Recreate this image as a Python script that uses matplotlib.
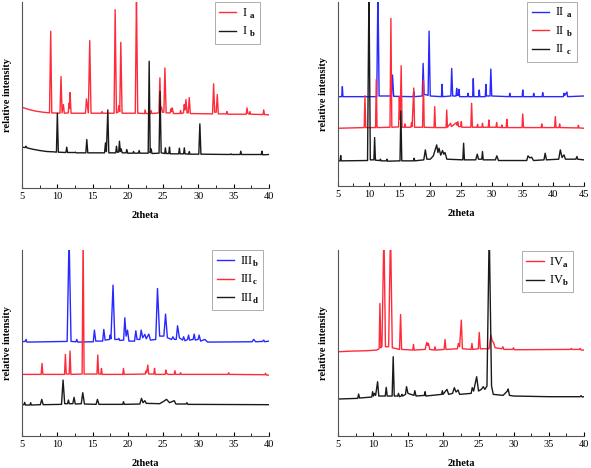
import matplotlib
matplotlib.use("Agg")
import matplotlib.pyplot as plt
from matplotlib.ticker import MultipleLocator

plt.rcParams['font.family'] = ['Liberation Serif', 'DejaVu Serif']
plt.rcParams['mathtext.fontset'] = 'custom'
plt.rcParams['mathtext.rm'] = 'Liberation Serif'
plt.rcParams['mathtext.bf'] = 'Liberation Serif:bold'

# ---- panel 1: I_a, I_b  (2theta, intensity in arbitrary units) ----
I_a = [(5, 243), (6, 236), (7, 231), (8, 228), (8.9, 226), (9.07, 471), (9.22, 226), (10.38, 225), (10.53, 335),
       (10.68, 226), (10.87, 251), (11.0, 225), (11.55, 226), (11.67, 255), (11.74, 240), (11.81, 287), (11.95, 225),
       (14.0, 225), (14.13, 268), (14.4, 226), (14.6, 443), (14.78, 225), (16.25, 225), (16.35, 230), (16.45, 225),
       (18.05, 225), (18.2, 536), (18.38, 226), (18.6, 228), (18.72, 248), (18.85, 230), (19.0, 438), (19.18, 225),
       (21.05, 225), (21.22, 575), (21.4, 225), (22.35, 224), (22.45, 235), (22.55, 224), (23.2, 224), (23.3, 233),
       (23.4, 224), (24.4, 226), (24.54, 331), (24.66, 235), (24.77, 243), (24.9, 228), (25.1, 228), (25.25, 361),
       (25.42, 226), (26.0, 226), (26.1, 238), (26.2, 230), (26.29, 241), (26.45, 224), (27.38, 224), (27.47, 233),
       (27.58, 224), (27.88, 226), (27.99, 251), (28.1, 235), (28.23, 266), (28.38, 226), (28.55, 226), (28.7, 272),
       (28.85, 224), (32.0, 223), (32.15, 313), (32.3, 228), (32.52, 228), (32.67, 281), (32.82, 223), (33.95, 223),
       (34.04, 230), (34.15, 222), (36.78, 222), (36.88, 241), (37.0, 225), (37.2, 222), (37.3, 230), (37.4, 222),
       (39.15, 221), (39.25, 235), (39.35, 221), (40, 220)]
I_b = [(5, 123), (5.45, 122), (5.57, 126), (5.7, 121), (6.5, 117), (7.5, 113), (8.5, 110), (9.5, 109), (9.88, 108),
       (10.01, 225), (10.15, 108), (11.22, 107), (11.34, 123), (11.46, 107), (12.47, 107), (12.57, 108), (12.67, 106),
       (14.05, 106), (14.18, 146), (14.32, 106), (16.7, 106), (16.83, 136), (16.96, 110), (17.16, 235), (17.3, 106),
       (18.28, 106), (18.39, 126), (18.5, 108), (18.7, 108), (18.81, 141), (18.93, 110), (19.05, 118), (19.2, 106),
       (19.75, 106), (19.85, 116), (19.97, 105), (20.7, 105), (20.8, 110), (20.9, 105), (21.5, 105), (21.6, 113),
       (21.7, 105), (22.88, 105), (23.02, 381), (23.16, 106), (23.3, 118), (23.42, 104), (24.42, 105), (24.56, 290),
       (24.72, 106), (25.22, 104), (25.32, 121), (25.42, 104), (25.8, 104), (25.9, 123), (26.0, 103), (27.2, 103),
       (27.3, 120), (27.4, 103), (27.9, 103), (28.0, 121), (28.1, 103), (28.6, 102), (28.7, 110), (28.8, 102),
       (30.05, 102), (30.2, 193), (30.35, 102), (34.5, 101), (34.6, 103), (34.7, 101), (35.9, 101), (36.0, 111),
       (36.1, 101), (38.9, 101), (39.0, 111), (39.1, 100), (40, 101)]

# ---- panel 2: II_a, II_b, II_c ----
II_a = [(5, 268), (5.6, 268), (5.7, 298), (5.8, 268), (11.3, 268), (11.49, 600), (11.68, 270), (13.7, 270), (13.86, 333),
        (14.05, 269), (17.22, 268), (17.32, 283), (17.42, 268), (18.7, 270), (18.84, 368), (19.0, 275), (19.65, 272),
        (19.81, 465), (20.0, 270), (21.82, 268), (21.92, 305), (22.02, 268), (23.35, 270), (23.49, 353), (23.65, 270),
        (24.2, 270), (24.3, 293), (24.4, 272), (24.58, 272), (24.68, 290), (24.78, 268), (26.04, 268), (26.14, 278),
        (26.24, 268), (26.9, 268), (27.0, 322), (27.1, 268), (27.87, 268), (27.97, 288), (28.07, 268), (28.95, 268),
        (29.05, 305), (29.15, 270), (29.72, 270), (29.86, 351), (30.0, 270), (32.85, 268), (32.95, 278), (33.05, 268),
        (34.95, 268), (35.05, 288), (35.15, 268), (36.74, 268), (36.84, 278), (36.94, 268), (38.2, 268), (38.3, 280),
        (38.4, 268), (41.66, 268), (41.76, 278), (41.9, 272), (42.24, 282), (42.34, 268), (45, 270)]
II_b = [(5, 173), (9.25, 175), (9.38, 271), (9.5, 175), (11.1, 175), (11.22, 320), (11.34, 175), (13.45, 176), (13.6, 503),
        (13.75, 176), (14.85, 177), (14.97, 268), (15.1, 200), (15.27, 361), (15.42, 176), (15.8, 176), (15.9, 186),
        (16.0, 176), (16.85, 176), (16.95, 190), (17.05, 178), (17.32, 294), (17.45, 176), (18.75, 176), (18.89, 318),
        (19.02, 176), (20.62, 175), (20.73, 238), (20.85, 175), (22.57, 175), (22.68, 228), (22.8, 176), (23.3, 188),
        (23.45, 178), (24.24, 190), (24.36, 182), (24.5, 193), (24.62, 178), (24.95, 178), (25.05, 193), (25.15, 176),
        (26.6, 176), (26.73, 248), (26.86, 176), (27.6, 176), (27.7, 185), (27.8, 176), (28.4, 176), (28.5, 188),
        (28.6, 176), (29.44, 176), (29.54, 198), (29.64, 176), (30.7, 176), (30.8, 190), (30.9, 176), (31.55, 175),
        (31.65, 183), (31.75, 175), (32.36, 175), (32.46, 200), (32.58, 175), (34.93, 175), (35.05, 216), (35.18, 175),
        (38.04, 175), (38.14, 186), (38.24, 175), (40.24, 175), (40.35, 208), (40.47, 175), (40.95, 175), (41.05, 186),
        (41.15, 175), (44.0, 174), (44.1, 182), (44.2, 174), (45, 173)]
II_c = [(5, 75), (5.33, 75), (5.43, 91), (5.53, 75), (9.8, 76), (10.03, 600), (10.25, 78), (10.83, 78), (10.95, 145),
        (11.08, 77), (11.8, 76), (11.9, 80), (12.0, 75), (12.85, 75), (12.95, 80), (13.05, 74), (15.08, 75), (15.22, 225),
        (15.37, 75), (17.28, 75), (17.38, 83), (17.48, 75), (18.95, 78), (19.2, 108), (19.45, 80), (20.0, 80), (20.5, 90),
        (21.05, 123), (21.25, 100), (21.43, 113), (21.7, 92), (22.0, 106), (22.2, 95), (22.4, 100), (22.7, 80),
        (25.3, 78), (25.43, 128), (25.56, 78), (27.4, 78), (27.65, 95), (27.85, 80), (28.38, 80), (28.5, 103),
        (28.62, 78), (30.6, 78), (30.83, 90), (31.1, 76), (35.7, 76), (35.9, 90), (36.2, 84), (36.5, 86), (36.8, 76),
        (38.5, 78), (38.7, 98), (38.9, 78), (40.9, 80), (41.16, 108), (41.45, 85), (41.76, 93), (42.0, 80), (43.7, 80),
        (43.86, 88), (44.0, 80), (45, 78)]

# ---- panel 3: III_b, III_c, III_d ----
III_b = [(5, 283), (5.45, 284), (5.57, 290), (5.7, 282), (11.4, 284), (11.67, 600), (11.95, 284), (12.65, 283),
         (12.76, 290), (12.9, 282), (15.1, 283), (15.26, 318), (15.45, 285), (16.43, 285), (16.59, 320), (16.78, 288),
         (17.4, 290), (17.49, 303), (17.6, 292), (17.9, 453), (18.15, 290), (18.6, 290), (18.72, 293), (18.85, 287),
         (19.4, 288), (19.57, 355), (19.75, 300), (19.95, 318), (20.15, 285), (20.95, 285), (21.13, 316), (21.3, 290),
         (21.7, 290), (21.89, 318), (22.1, 295), (22.41, 305), (22.6, 292), (22.97, 306), (23.2, 288), (23.95, 290),
         (24.2, 443), (24.5, 300), (25.1, 300), (25.34, 366), (25.6, 295), (26.2, 290), (26.38, 298), (26.6, 290),
         (26.85, 290), (27.04, 331), (27.3, 295), (27.75, 288), (27.9, 298), (28.1, 286), (28.45, 290), (28.6, 303),
         (28.75, 288), (29.25, 290), (29.4, 306), (29.55, 288), (29.95, 290), (30.1, 303), (30.3, 285), (30.9, 290),
         (31.3, 282), (37.6, 283), (37.83, 290), (38.1, 283), (39.1, 284), (39.25, 288), (39.4, 283), (40, 285)]
III_c = [(5, 185), (7.72, 185), (7.84, 218), (7.96, 185), (11.03, 185), (11.15, 245), (11.27, 186), (11.69, 186),
         (11.81, 255), (11.93, 185), (13.52, 186), (13.66, 600), (13.8, 186), (15.62, 186), (15.74, 243), (15.86, 186),
         (16.16, 186), (16.26, 203), (16.36, 185), (19.28, 185), (19.38, 203), (19.48, 185), (22.45, 186), (22.55, 195),
         (22.65, 190), (22.83, 213), (22.95, 186), (23.68, 186), (23.78, 203), (23.88, 185), (25.29, 185), (25.39, 198),
         (25.49, 188), (25.7, 185), (26.57, 185), (26.67, 196), (26.77, 185), (27.37, 185), (27.47, 190), (27.57, 185),
         (34.18, 185), (34.28, 190), (34.38, 185), (39.4, 184), (39.5, 188), (39.6, 183), (40, 183)]
III_d = [(5, 94), (5.28, 94), (5.38, 101), (5.5, 93), (6.13, 93), (6.23, 100), (6.33, 93), (7.6, 94), (7.8, 110),
         (8.0, 94), (10.6, 95), (10.82, 168), (11.05, 97), (11.45, 97), (11.58, 108), (11.7, 97), (12.2, 97),
         (12.38, 116), (12.55, 96), (13.4, 97), (13.61, 130), (13.85, 96), (15.5, 95), (15.69, 110), (15.9, 95),
         (19.28, 95), (19.38, 103), (19.5, 95), (21.7, 96), (21.93, 113), (22.15, 100), (22.41, 106), (22.6, 98),
         (24.5, 97), (25.0, 103), (25.48, 110), (25.9, 100), (26.57, 106), (26.8, 96), (28.25, 96), (28.37, 100),
         (28.5, 95), (40, 94)]

# ---- panel 4: IV_a, IV_b ----
IV_a = [(5, 253), (7, 255), (9, 256), (10.5, 258), (10.85, 262), (10.96, 398), (11.1, 265), (11.25, 270), (11.53, 620),
        (11.75, 268), (12.2, 268), (12.47, 620), (12.72, 265), (13.75, 260), (13.9, 365), (14.05, 260), (15.64, 258),
        (15.74, 275), (15.84, 258), (17.4, 260), (17.63, 281), (17.75, 272), (17.87, 278), (18.05, 260), (18.7, 258),
        (18.8, 268), (18.9, 258), (20.1, 260), (20.23, 290), (20.36, 260), (22.0, 262), (22.12, 278), (22.3, 268),
        (22.55, 348), (22.7, 262), (23.95, 260), (24.06, 278), (24.17, 260), (24.97, 262), (25.1, 311), (25.25, 262),
        (26.5, 262), (26.76, 303), (26.95, 285), (27.14, 281), (27.35, 265), (28.3, 262), (28.46, 268), (28.6, 260),
        (29.85, 260), (29.98, 265), (30.1, 259), (38.1, 260), (38.2, 263), (38.3, 260), (39.35, 260), (39.48, 263),
        (39.6, 258), (40, 258)]
IV_b = [(5, 111), (7.8, 113), (7.93, 126), (8.06, 114), (9.8, 117), (9.92, 133), (10.05, 120), (10.2, 128), (10.35, 122),
        (10.63, 163), (10.8, 120), (11.72, 120), (11.86, 146), (12.0, 120), (12.7, 120), (12.85, 238), (13.0, 120),
        (13.5, 120), (13.6, 128), (13.75, 118), (14.0, 120), (14.08, 125), (14.2, 120), (14.6, 125), (14.75, 148),
        (14.95, 128), (15.8, 122), (15.93, 136), (16.1, 120), (17.3, 122), (17.39, 133), (17.5, 120), (19.75, 125),
        (19.85, 136), (19.95, 125), (20.5, 140), (20.75, 125), (21.3, 128), (21.55, 145), (21.8, 132), (22.08, 138),
        (22.3, 125), (23.95, 128), (24.1, 145), (24.3, 135), (24.73, 178), (25.0, 135), (25.4, 140), (25.67, 148),
        (25.9, 140), (26.2, 150), (26.52, 620), (26.85, 150), (27.1, 125), (28.5, 122), (29.1, 135), (29.22, 141),
        (29.4, 122), (30, 120), (35, 118), (39.45, 118), (39.6, 121), (39.75, 117), (40, 118)]

RED = '#ff2b3a'
BLUE = '#2828ff'
BLACK = '#1a1a1a'

panels = [
    ([0.0372, 0.598, 0.418, 0.397], (5, 40), 558,
     [(I_a, RED, r'I $_{\mathbf{a}}$'), (I_b, BLACK, r'I $_{\mathbf{b}}$')], (0.965, 1.0)),
    ([0.572, 0.603, 0.416, 0.393], (5, 45), 553,
     [(II_a, BLUE, r'II $_{\mathbf{a}}$'), (II_b, RED, r'II $_{\mathbf{b}}$'), (II_c, BLACK, r'II $_{\mathbf{c}}$')],
     (0.972, 1.0)),
    ([0.0372, 0.0684, 0.418, 0.397], (5, 40), 558,
     [(III_b, BLUE, r'III$_{\mathbf{b}}$'), (III_c, RED, r'III$_{\mathbf{c}}$'), (III_d, BLACK, r'III$_{\mathbf{d}}$')],
     (0.976, 1.0)),
    ([0.572, 0.0684, 0.416, 0.397], (5, 40), 558,
     [(IV_a, RED, r'IV$_{\mathbf{a}}$'), (IV_b, BLACK, r'IV$_{\mathbf{b}}$')], (0.957, 0.995)),
]

fig = plt.figure(figsize=(5.91, 4.68), dpi=100)
for rect, xlim, ytop, series, anchor in panels:
    ax = fig.add_axes(rect)
    for pts, col, lab in series:
        xs, ys = zip(*pts)
        ax.plot(xs, ys, color=col, lw=1.0, label=lab)
    ax.set_xlim(*xlim)
    ax.set_ylim(0, ytop)
    ax.spines['top'].set_visible(False)
    ax.spines['right'].set_visible(False)
    ax.spines['left'].set_color('#555555')
    ax.spines['bottom'].set_color('#555555')
    ax.set_yticks([])
    ax.xaxis.set_major_locator(MultipleLocator(5))
    ax.xaxis.set_minor_locator(MultipleLocator(2.5))
    ax.tick_params(axis='x', which='major', direction='in', length=3, labelsize=7.5, pad=3)
    ax.tick_params(axis='x', which='minor', direction='in', length=2)
    ax.set_xlabel('2theta', fontsize=7.5, fontweight='bold', labelpad=7)
    ax.set_ylabel('relative intensity', fontsize=7.5, fontweight='bold', labelpad=7)
    leg = ax.legend(loc='upper right', bbox_to_anchor=anchor, fontsize=9, frameon=True, fancybox=False,
                    handlelength=1.4, labelspacing=0.35, borderpad=0.35, handletextpad=0.45,
                    borderaxespad=0)
    leg.get_frame().set_edgecolor('#999999')
    leg.get_frame().set_linewidth(0.7)

fig.savefig('out.png', dpi=100)
